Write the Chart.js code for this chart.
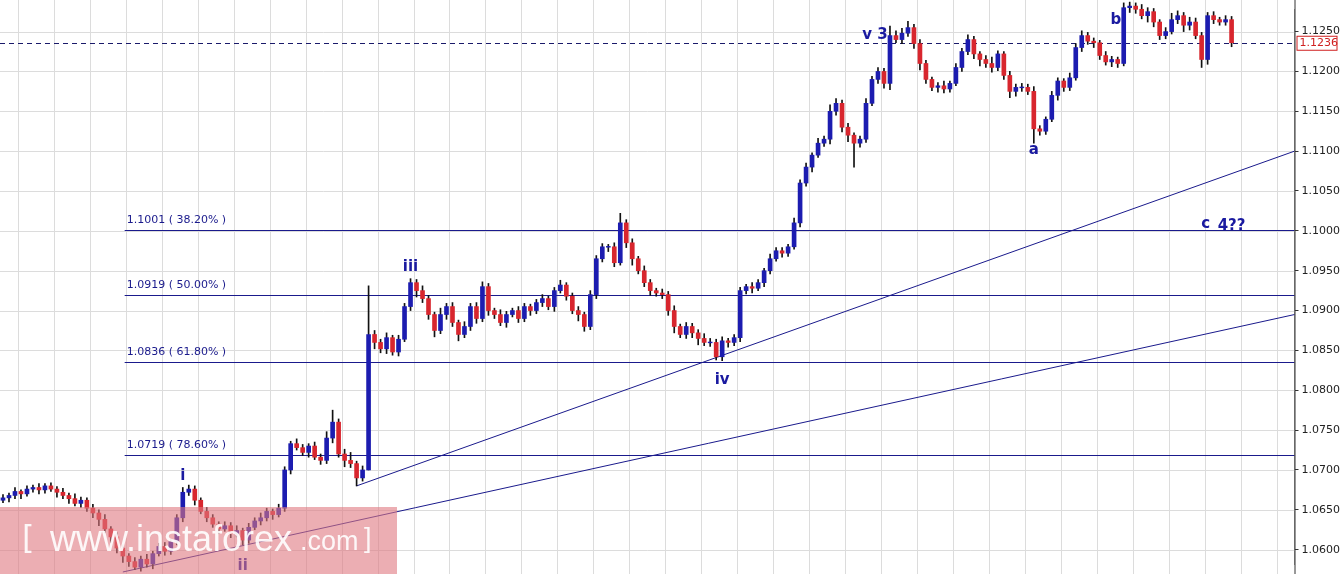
<!DOCTYPE html>
<html><head><meta charset="utf-8">
<script src="https://cdn.jsdelivr.net/npm/chart.js@4"></script>
<style>html,body{margin:0;padding:0;background:#fff}#w{width:1343px;height:574px}</style>
</head><body><div id="w"><canvas id="c"></canvas></div>
<script>
// prices in pips above 1.0000
const closesP=[665,668,673,670,676,678,675,680,676,672,668,664,658,662,652,646,638,626,616,602,592,585,578,588,582,595,604,598,610,640,672,676,662,648,640,632,626,630,620,624,612,628,636,640,648,644,652,700,733,728,722,730,716,712,740,760,720,712,708,690,700,870,860,852,866,848,864,905,935,925,915,895,875,895,905,885,870,880,905,890,930,900,895,885,895,900,890,905,900,910,915,905,925,932,918,900,895,880,920,965,980,980,960,1010,985,965,950,935,925,922,920,900,880,870,880,872,865,860,860,842,862,860,866,925,930,928,935,950,965,975,972,980,1010,1060,1080,1095,1110,1115,1150,1160,1130,1120,1110,1115,1160,1190,1200,1185,1245,1240,1248,1255,1235,1210,1190,1180,1182,1178,1185,1205,1225,1240,1222,1215,1210,1205,1222,1195,1175,1180,1180,1175,1128,1125,1140,1170,1188,1180,1192,1230,1245,1238,1236,1220,1212,1215,1210,1280,1282,1278,1270,1275,1262,1245,1250,1265,1270,1258,1262,1245,1215,1270,1265,1262,1265,1236];
const firstOpenP=662;
const upperWick=[4,3,5,2,4,3,5,3,4,3,5,3,6,4,3,5,4,6,3,5,4,3,5,4,6,3,4,5,3,4,6,5,4,3,5,4,3,5,4,6,3,5,4,6,4,3,5,4,3,6,4,3,5,4,8,15,4,6,10,3,5,61,5,4,6,3,5,4,5,4,6,4,3,8,4,5,3,6,4,5,6,4,3,6,4,3,5,4,3,4,5,3,4,6,3,4,5,3,5,4,4,3,5,12,4,5,3,6,4,3,5,4,6,3,5,4,4,6,5,4,5,3,4,4,3,5,4,3,6,4,4,3,6,4,5,3,6,4,8,6,4,5,3,4,6,4,5,4,12,6,6,8,4,5,4,3,4,6,3,5,4,6,4,3,5,8,4,3,5,4,5,4,6,4,3,5,4,3,6,5,6,4,4,3,5,4,3,6,5,4,6,5,4,3,5,8,6,4,6,5,4,4,5,3,5,4];
const lowerWick=[3,5,4,6,3,4,5,4,3,6,4,6,3,5,4,6,8,5,7,6,8,6,3,5,4,6,3,5,4,4,5,4,6,3,5,4,6,3,5,4,6,4,3,5,4,6,3,4,5,3,4,6,3,5,4,6,4,8,5,10,4,0,8,5,6,4,5,3,5,8,5,6,8,4,6,5,8,4,5,6,4,6,5,4,6,3,5,4,6,4,5,4,6,3,5,4,8,6,4,5,4,6,5,3,6,8,4,5,6,4,5,6,8,4,5,6,8,4,5,4,5,6,4,5,4,6,3,5,4,3,5,4,3,5,4,6,3,4,6,5,6,8,30,5,4,3,5,6,8,4,5,4,6,8,5,4,6,5,4,3,5,4,6,8,5,6,4,5,8,6,5,4,18,5,4,3,6,5,4,3,5,4,6,5,4,6,5,3,6,5,4,8,6,5,4,3,5,8,6,4,10,6,5,4,4,5];
const yTicks=[1.0600,1.0650,1.0700,1.0750,1.0800,1.0850,1.0900,1.0950,1.1000,1.1050,1.1100,1.1150,1.1200,1.1250];
const fibLevels=[1.1001,1.0919,1.0836,1.0719];
const fibLabels=['1.1001 ( 38.20% )','1.0919 ( 50.00% )','1.0836 ( 61.80% )','1.0719 ( 78.60% )'];
const trendLines=[[59,1.0680,215.5,1.1100],[20,1.0572,215.5,1.0895]];
const waveLabels=[['i',30,1.0692],['ii',40,1.0579],['iii',68,1.0954],['iv',120,1.0813],['v 3',145.5,1.1246],['a',172,1.1101],['b',185.7,1.1264],['c',200.7,1.1008],['4??',205,1.1006]];
const lastPrice=1.1236;
const SLOTS=216;

const toP=p=>1+p/10000;
const n=closesP.length;
const bodies=[],wicks=[],cols=[],labels=[];
for(let i=0;i<SLOTS;i++){
  labels.push(String(i));
  if(i<n){
    const o=i===0?firstOpenP:closesP[i-1], c=closesP[i];
    const hi=Math.max(o,c)+upperWick[i], lo=Math.min(o,c)-lowerWick[i];
    let b=[toP(o),toP(c)]; if(o===c) b=[toP(o)-0.00005,toP(o)+0.00005];
    bodies.push(b); wicks.push([toP(lo),toP(hi)]);
    cols.push(c>=o?'#1c1cb0':'#d8262e');
  } else {bodies.push(null);wicks.push(null);cols.push('#000');}
}
const overlay={id:'ov',
  beforeDatasetsDraw(ch){
    const {ctx,scales:{x,y},chartArea:a}=ch;
    ctx.save();
    ctx.fillStyle='#fff';ctx.fillRect(0,0,a.right,ch.height);
    ctx.strokeStyle='#dcdcdc';ctx.lineWidth=1;
    for(let i=3;i<SLOTS;i+=6){const px=Math.round(x.getPixelForValue(i-0.5))+0.5;ctx.beginPath();ctx.moveTo(px,0);ctx.lineTo(px,ch.height);ctx.stroke();}
    yTicks.forEach(v=>{const py=Math.round(y.getPixelForValue(v))+0.5;ctx.beginPath();ctx.moveTo(0,py);ctx.lineTo(a.right,py);ctx.stroke();});
    ctx.strokeStyle='#1a1a8c';ctx.lineWidth=1.2;ctx.fillStyle='#1a1a8c';
    ctx.font='11px "DejaVu Sans", sans-serif';ctx.textBaseline='bottom';
    const fx0=x.getPixelForValue(20.3);
    fibLevels.forEach((v,i)=>{const py=Math.round(y.getPixelForValue(v))+0.5;
      ctx.beginPath();ctx.moveTo(fx0,py);ctx.lineTo(a.right,py);ctx.stroke();
      ctx.fillText(fibLabels[i],fx0+2,py-5);});
    ctx.lineWidth=1;
    trendLines.forEach(t=>{ctx.beginPath();ctx.moveTo(x.getPixelForValue(t[0]),y.getPixelForValue(t[1]));
      ctx.lineTo(x.getPixelForValue(t[2]),y.getPixelForValue(t[3]));ctx.stroke();});
    const lp=Math.round(y.getPixelForValue(lastPrice))+0.5;
    ctx.setLineDash([5,4]);ctx.strokeStyle='#1a1a6a';
    ctx.beginPath();ctx.moveTo(0,lp);ctx.lineTo(a.right,lp);ctx.stroke();ctx.setLineDash([]);
    ctx.strokeStyle='#333';ctx.beginPath();ctx.moveTo(a.right+0.5,0);ctx.lineTo(a.right+0.5,ch.height);ctx.stroke();
    ctx.restore();
  },
  afterDatasetsDraw(ch){
    const {ctx,scales:{x,y},chartArea:a}=ch;
    ctx.save();
    ctx.fillStyle='#1a1aa0';ctx.font='bold 15px "DejaVu Sans", sans-serif';ctx.textAlign='center';ctx.textBaseline='middle';
    waveLabels.forEach(l=>ctx.fillText(l[0],x.getPixelForValue(l[1]),y.getPixelForValue(l[2])));
    ctx.fillStyle='rgba(224,120,128,0.6)';ctx.fillRect(0,507,397,67);
    ctx.fillStyle='rgba(255,255,255,0.9)';ctx.textAlign='left';ctx.textBaseline='middle';
    ctx.font='32px "DejaVu Sans", sans-serif';ctx.fillText('[',22,540);
    ctx.font='36px "Liberation Sans", sans-serif';ctx.fillText('www.instaforex',50,541);
    ctx.font='27px "Liberation Sans", sans-serif';ctx.fillText('.com',300,543);ctx.fillText(']',364,540);
    const lp=y.getPixelForValue(lastPrice);
    ctx.fillStyle='#fff';ctx.fillRect(a.right+2,lp-7,40,14);
    ctx.strokeStyle='#d02020';ctx.lineWidth=1;ctx.strokeRect(a.right+2.5,lp-6.5,40,14);
    ctx.fillStyle='#d02020';ctx.font='11px "DejaVu Sans", sans-serif';ctx.fillText('1.1236',a.right+5,lp+0.5);
    ctx.restore();
  }};
new Chart(document.getElementById('c'),{
  type:'bar',
  data:{labels,datasets:[
    {data:wicks,backgroundColor:'#111',barThickness:1,grouped:false,order:2,clip:false},
    {data:bodies,backgroundColor:cols,barThickness:4,grouped:false,order:1,clip:false}
  ]},
  options:{responsive:true,maintainAspectRatio:false,animation:false,
    layout:{padding:0},
    plugins:{legend:{display:false},tooltip:{enabled:false}},
    scales:{
      x:{offset:true,ticks:{display:false,autoSkip:false},border:{display:false},
        grid:{display:false}},
      y:{position:'right',min:1.05815,max:1.12776,
        afterBuildTicks:ax=>{ax.ticks=yTicks.map(v=>({value:v}));},
        ticks:{callback:v=>v.toFixed(4),color:'#222',font:{size:11,family:'DejaVu Sans'},padding:3},
        border:{color:'#333'},
        grid:{color:'#dcdcdc',tickLength:4,tickColor:'#333'}}
    }},
  plugins:[overlay]
});
</script></body></html>
